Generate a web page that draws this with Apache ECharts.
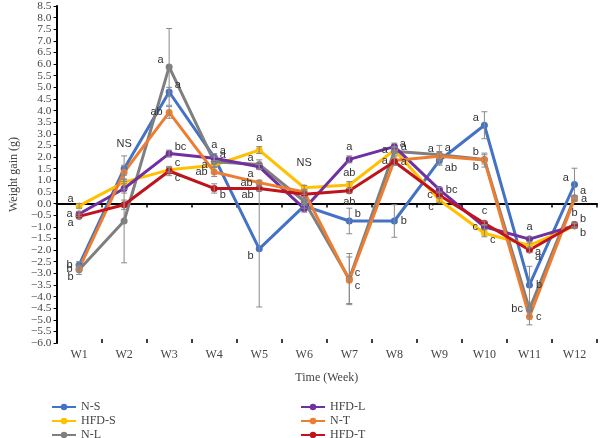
<!DOCTYPE html>
<html>
<head>
<meta charset="utf-8">
<script src="https://cdn.jsdelivr.net/npm/echarts@6/dist/echarts.min.js"></script>
<style>
  html, body { margin: 0; padding: 0; background: #fff; }
  #chart { width: 600px; height: 438px; }
</style>
</head>
<body>
<div id="chart"></div>
<script>
const weeks = ['W1', 'W2', 'W3', 'W4', 'W5', 'W6', 'W7', 'W8', 'W9', 'W10', 'W11', 'W12'];

// mean weight gain (g) per group
const nS   = [-2.65, 1.5, 4.8, 2.0, -1.95, -0.1, -0.75, -0.75, 1.85, 3.37, -3.5, 0.82];
const hfdS = [-0.1, 0.92, 1.45, 1.65, 2.3, 0.68, 0.8, 2.3, 0.15, -1.28, -1.8, -0.97];
const nL   = [-2.85, -0.75, 5.88, 1.8, 1.68, 0.1, -3.25, 2.25, 2.1, 1.9, -4.55, 0.25];
const hfdL = [-0.45, 0.65, 2.15, 1.95, 1.58, -0.22, 1.9, 2.45, 0.6, -1.0, -1.53, -0.95];
const nT   = [-2.8, 1.35, 3.92, 1.36, 0.9, 0.5, -3.3, 1.85, 2.04, 1.87, -4.87, 0.2];
const hfdT = [-0.55, -0.05, 1.4, 0.65, 0.65, 0.4, 0.55, 1.8, 0.36, -0.85, -2.0, -0.9];

// error bar half widths
const errNS   = [0.15, 0.55, 0.2, 0.15, 2.5, 0.1, 0.55, 0.7, 0.2, 0.58, 0.8, 0.7];
const errHfdS = [0.1, 0.3, 0.1, 0.1, 0.15, 0.1, 0.15, 0.1, 0.1, 0.15, 0.1, 0.1];
const errNL   = [0.2, 1.8, 1.65, 0.2, 0.2, 0.1, 1.1, 0.2, 0.4, 0.2, 0.3, 0.1];
const errHfdL = [0.1, 0.2, 0.15, 0.1, 0.1, 0.15, 0.15, 0.15, 0.1, 0.1, 0.1, 0.1];
const errNT   = [0.1, 0.3, 0.25, 0.2, 0.1, 0.1, 1.0, 0.2, 0.2, 0.3, 0.35, 0.1];
const errHfdT = [0.1, 0.2, 0.2, 0.2, 0.1, 0.1, 0.1, 0.15, 0.1, 0.1, 0.1, 0.1];

// significance letters
const letNS   = ['b', 'NS', 'a', 'a', 'b', '', 'b', 'b', 'ab', 'a', 'b', 'a'];
const letHfdS = ['a', '', 'c', 'a', 'a', 'NS', 'ab', 'a', 'c', 'c', 'a', 'b'];
const letNL   = ['b', '', 'a', 'a', 'a', '', 'c', 'a', 'a', 'b', 'bc', 'a'];
const letHfdL = ['a', '', 'bc', 'a', 'a', '', 'a', 'a', 'bc', 'c', 'a', 'b'];
const letNT   = ['b', '', 'ab', 'ab', 'ab', '', 'c', 'a', 'a', 'b', 'c', 'a'];
const letHfdT = ['a', '', 'c', 'b', 'ab', '', 'ab', 'a', 'c', 'c', 'a', 'b'];

// where each letter sits around its point (layout only)
const letterPos = {
  'N-S':   ['l', 'n', 'tr', 't', 'bl', 't', 'tr', 'r', 'br', 'tl', 'r', 'tl'],
  'HFD-S': ['tl', 't', 'tr', 'l', 't', 'n', 't', 'l', 'bl', 'br', 'br', 'br'],
  'N-L':   ['bl', 't', 'tl', 'tr', 'tl', 't', 'br', 'tr', 'tr', 'tl', 'l', 'tr'],
  'HFD-L': ['l', 't', 'tr', 'tr', 'bl', 't', 't', 'r', 'r', 'l', 't', 'tr'],
  'N-T':   ['l', 't', 'l', 'l', 'l', 't', 'tr', 'l', 'tl', 'bl', 'r', 'r'],
  'HFD-T': ['bl', 't', 'br', 'br', 'bl', 't', 'b', 'r', 'l', 't', 'br', 't']
};

const posMap = {
  t:  { position: 'top', distance: 3 },
  b:  { position: 'bottom', distance: 2 },
  l:  { position: 'left', distance: 3 },
  r:  { position: 'right', distance: 3 },
  tl: { position: 'left', distance: 2, offset: [0, -7] },
  tr: { position: 'right', distance: 2, offset: [0, -7] },
  bl: { position: 'left', distance: 2, offset: [0, 7] },
  br: { position: 'right', distance: 2, offset: [0, 7] },
  n:  { position: 'top', distance: 16 }
};

const groups = [
  { name: 'N-S', values: nS, err: errNS, letters: letNS, color: '#4472C4' },
  { name: 'HFD-S', values: hfdS, err: errHfdS, letters: letHfdS, color: '#FFC000' },
  { name: 'N-L', values: nL, err: errNL, letters: letNL, color: '#7F7F7F' },
  { name: 'HFD-L', values: hfdL, err: errHfdL, letters: letHfdL, color: '#7030A0' },
  { name: 'N-T', values: nT, err: errNT, letters: letNT, color: '#ED7D31' },
  { name: 'HFD-T', values: hfdT, err: errHfdT, letters: letHfdT, color: '#C0141C' }
];

function errorBars(params, api) {
  const i = api.value(0);
  const v = api.value(1);
  const e = api.value(2);
  const hi = api.coord([i, v + e]);
  const lo = api.coord([i, v - e]);
  const cap = 3;
  const st = { stroke: '#8a8a8a', lineWidth: 1 };
  return {
    type: 'group',
    children: [
      { type: 'line', shape: { x1: hi[0], y1: hi[1], x2: lo[0], y2: lo[1] }, style: st },
      { type: 'line', shape: { x1: hi[0] - cap, y1: hi[1], x2: hi[0] + cap, y2: hi[1] }, style: st },
      { type: 'line', shape: { x1: lo[0] - cap, y1: lo[1], x2: lo[0] + cap, y2: lo[1] }, style: st }
    ]
  };
}

const series = [];
groups.forEach(g => {
  series.push({
    name: g.name,
    type: 'line',
    xAxisIndex: 0,
    data: g.values.map((v, i) => {
      const p = posMap[letterPos[g.name][i]];
      return { value: v, label: Object.assign({}, p) };
    }),
    symbol: 'circle',
    symbolSize: 7,
    lineStyle: { width: 3, color: g.color },
    itemStyle: { color: g.color },
    label: {
      show: true,
      formatter: p => g.letters[p.dataIndex],
      fontFamily: 'Liberation Sans, Arial, sans-serif',
      fontSize: 11,
      color: '#333'
    },
    z: 3
  });
});
groups.forEach(g => {
  series.push({
    type: 'custom',
    xAxisIndex: 0,
    renderItem: errorBars,
    data: g.values.map((v, i) => [i, v, g.err[i]]),
    z: 4,
    silent: true
  });
});

const serif = 'Liberation Serif, Times New Roman, serif';
const legendText = { fontFamily: serif, fontSize: 12, color: '#444', lineHeight: 12 };
const chart = echarts.init(document.getElementById('chart'));
chart.setOption({
  animation: false,
  grid: { left: 48, right: 3, top: 6, bottom: 95 },
  legend: [
    {
      data: ['N-S', 'HFD-S', 'N-L'],
      orient: 'vertical', left: 46, top: 396, height: 44, itemGap: 2,
      itemWidth: 24, itemHeight: 8,
      textStyle: legendText
    },
    {
      data: ['HFD-L', 'N-T', 'HFD-T'],
      orient: 'vertical', left: 295, top: 396, height: 44, itemGap: 2,
      itemWidth: 24, itemHeight: 8,
      textStyle: legendText
    }
  ],
  xAxis: [
    {
      type: 'category',
      data: weeks,
      position: 'bottom',
      axisLine: { show: false, onZero: false },
      axisTick: { show: false },
      axisLabel: { fontFamily: serif, fontSize: 12, color: '#444', margin: 6 },
      name: 'Time (Week)',
      nameLocation: 'middle',
      nameGap: 29,
      nameTextStyle: { fontFamily: serif, fontSize: 12, color: '#444' }
    },
    {
      type: 'category',
      data: weeks,
      position: 'bottom',
      axisLine: { show: true, onZero: true, lineStyle: { color: '#000', width: 2 } },
      axisTick: { show: true, length: 4, lineStyle: { color: '#000', width: 1.5 } },
      axisLabel: { show: false }
    },
    {
      type: 'category',
      data: weeks,
      position: 'bottom',
      axisLine: { show: true, onZero: true, lineStyle: { color: '#000', opacity: 0 } },
      axisTick: { show: true, inside: true, length: 4, lineStyle: { color: '#000', width: 1.5 } },
      axisLabel: { show: false }
    }
  ],
  yAxis: {
    type: 'value',
    min: -6,
    max: 8.5,
    interval: 0.5,
    axisLine: { show: true, lineStyle: { color: '#000', width: 2 } },
    axisTick: { show: true, length: 3, lineStyle: { color: '#000' } },
    splitLine: { show: false },
    axisLabel: {
      fontFamily: serif, fontSize: 11.4, color: '#444', margin: 5,
      hideOverlap: false,
      showMinLabel: true,
      showMaxLabel: true,
      formatter: v => (v < 0 ? '\u2212' : '') + Math.abs(v).toFixed(1)
    },
    name: 'Weight gain (g)',
    nameLocation: 'middle',
    nameGap: 34,
    nameTextStyle: { fontFamily: serif, fontSize: 12, color: '#444' }
  },
  series: series
});
</script>
</body>
</html>
